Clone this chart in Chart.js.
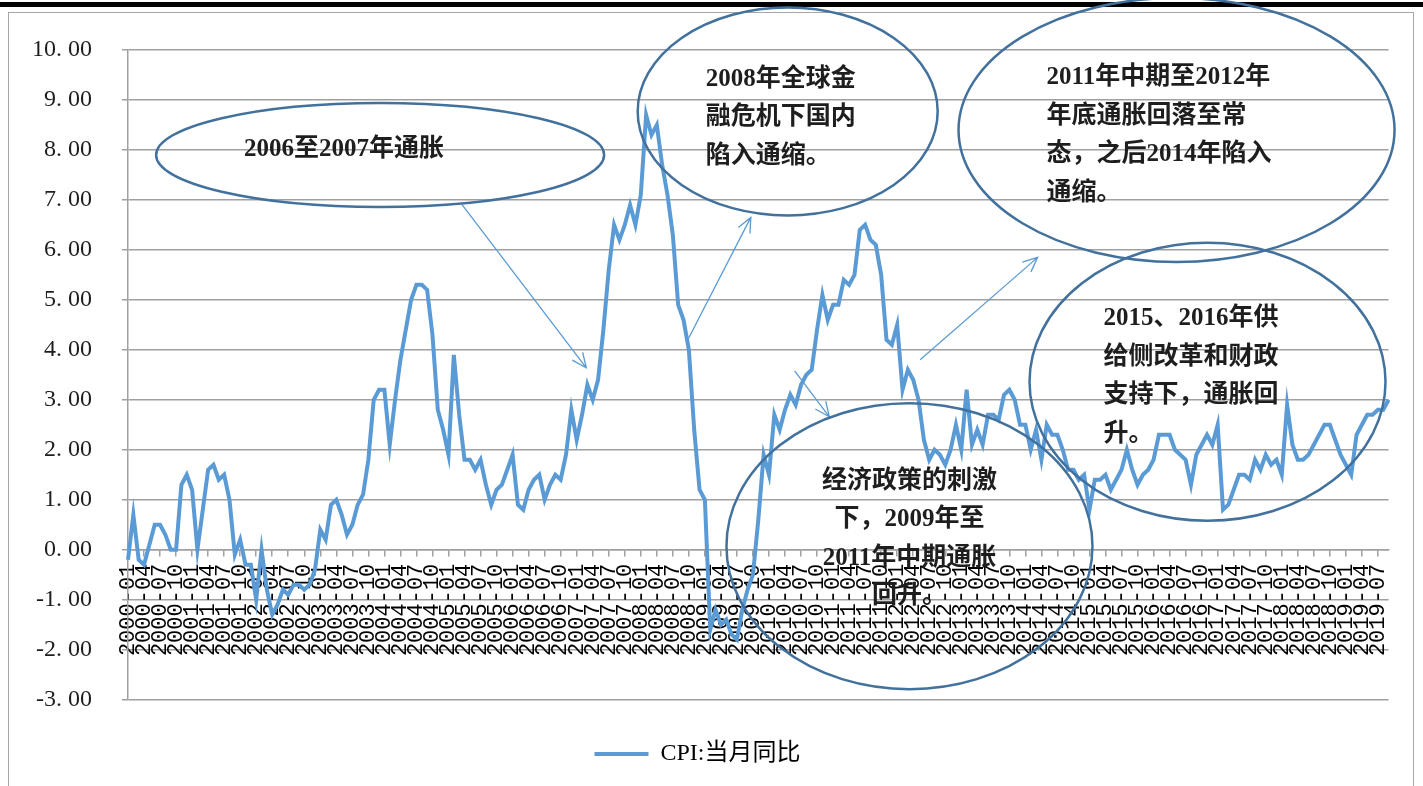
<!DOCTYPE html>
<html lang="zh-CN">
<head>
<meta charset="UTF-8" />
<title>CPI:当月同比</title>
<script src="https://cdn.jsdelivr.net/npm/chart.js"></script>
<style>
  html, body { margin: 0; padding: 0; background: #fff; }
  body { width: 1423px; height: 786px; position: relative; overflow: hidden; }
  .topbar { position: absolute; left: 0; top: 2px; width: 1423px; height: 5px; background: #000; }
  .frame { position: absolute; left: 8px; top: 12px; width: 1404px; height: 800px; border: 1.5px solid #a6a6a6; }
  .chart-box { position: absolute; left: 0; top: 0; width: 1423px; height: 786px; }
</style>
</head>
<body>
<div class="topbar"></div>
<div class="frame"></div>
<div class="chart-box"><canvas id="cpiChart"></canvas></div>

<script>
// 月份 2000-01 ~ 2019-09
const years = [2000, 2001, 2002, 2003, 2004, 2005, 2006, 2007, 2008, 2009,
               2010, 2011, 2012, 2013, 2014, 2015, 2016, 2017, 2018, 2019];
const lastMonth = 9;

// CPI 当月同比 (%)
const cpiValues = [
  -0.2, 0.7, -0.2, -0.3, 0.1, 0.5, 0.5, 0.3, 0.0, 0.0, 1.3, 1.5,      // 2000
  1.2, 0.0, 0.8, 1.6, 1.7, 1.4, 1.5, 1.0, -0.1, 0.2, -0.3, -0.3,      // 2001
  -1.0, 0.0, -0.8, -1.3, -1.1, -0.8, -0.9, -0.7, -0.7, -0.8, -0.7, -0.4, // 2002
  0.4, 0.2, 0.9, 1.0, 0.7, 0.3, 0.5, 0.9, 1.1, 1.8, 3.0, 3.2,         // 2003
  3.2, 2.1, 3.0, 3.8, 4.4, 5.0, 5.3, 5.3, 5.2, 4.3, 2.8, 2.4,         // 2004
  1.9, 3.9, 2.7, 1.8, 1.8, 1.6, 1.8, 1.3, 0.9, 1.2, 1.3, 1.6,         // 2005
  1.9, 0.9, 0.8, 1.2, 1.4, 1.5, 1.0, 1.3, 1.5, 1.4, 1.9, 2.8,         // 2006
  2.2, 2.7, 3.3, 3.0, 3.4, 4.4, 5.6, 6.5, 6.2, 6.5, 6.9, 6.5,         // 2007
  7.1, 8.7, 8.3, 8.5, 7.7, 7.1, 6.3, 4.9, 4.6, 4.0, 2.4, 1.2,         // 2008
  1.0, -1.6, -1.2, -1.5, -1.4, -1.7, -1.8, -1.2, -0.8, -0.5, 0.6, 1.9, // 2009
  1.5, 2.7, 2.4, 2.8, 3.1, 2.9, 3.3, 3.5, 3.6, 4.4, 5.1, 4.6,         // 2010
  4.9, 4.9, 5.4, 5.3, 5.5, 6.4, 6.5, 6.2, 6.1, 5.5, 4.2, 4.1,         // 2011
  4.5, 3.2, 3.6, 3.4, 3.0, 2.2, 1.8, 2.0, 1.9, 1.7, 2.0, 2.5,         // 2012
  2.0, 3.2, 2.1, 2.4, 2.1, 2.7, 2.7, 2.6, 3.1, 3.2, 3.0, 2.5,         // 2013
  2.5, 2.0, 2.4, 1.8, 2.5, 2.3, 2.3, 2.0, 1.6, 1.6, 1.4, 1.5,         // 2014
  0.8, 1.4, 1.4, 1.5, 1.2, 1.4, 1.6, 2.0, 1.6, 1.3, 1.5, 1.6,         // 2015
  1.8, 2.3, 2.3, 2.3, 2.0, 1.9, 1.8, 1.3, 1.9, 2.1, 2.3, 2.1,         // 2016
  2.5, 0.8, 0.9, 1.2, 1.5, 1.5, 1.4, 1.8, 1.6, 1.9, 1.7, 1.8,         // 2017
  1.5, 2.9, 2.1, 1.8, 1.8, 1.9, 2.1, 2.3, 2.5, 2.5, 2.2, 1.9,         // 2018
  1.7, 1.5, 2.3, 2.5, 2.7, 2.7, 2.8, 2.8, 3.0                         // 2019
];

const yMin = -3, yMax = 10, yStep = 1;
const labelEvery = 3;

const months = [];
years.forEach(yr => {
  const n = yr === years[years.length - 1] ? lastMonth : 12;
  for (let m = 1; m <= n; m++) months.push(yr + '-' + String(m).padStart(2, '0'));
});

const lineColor = '#5b9bd5';
const gridColor = '#a0a0a0';
const serif = '"Liberation Serif", "Noto Sans CJK SC", serif';

// 椭圆标注: 圆心用 [月份序号, 数值], 文字相对圆心偏移
const callouts = [
  { at: [47.2, 7.9], rx: 224, ry: 52, align: 'left', dx: -136, dy: -5,
    lines: ['2006至2007年通胀'] },
  { at: [123.5, 8.77], rx: 150, ry: 104, align: 'left', dx: -82, dy: -32,
    lines: ['2008年全球金', '融危机下国内', '陷入通缩。'] },
  { at: [196.3, 8.4], rx: 218, ry: 132, align: 'left', dx: -130, dy: -52,
    lines: ['2011年中期至2012年', '年底通胀回落至常', '态，之后2014年陷入', '通缩。'] },
  { at: [202.1, 3.36], rx: 178, ry: 139, align: 'left', dx: -104, dy: -63,
    lines: ['2015、2016年供', '给侧改革和财政', '支持下，通胀回', '升。'] },
  { at: [146.3, 0.07], rx: 183, ry: 143, align: 'center', dx: 0, dy: -65,
    lines: ['经济政策的刺激', '下，2009年至', '2011年中期通胀', '回升。'] }
];

// 箭头: 起点、终点 [月份序号, 数值]
const arrows = [
  [[62.5, 6.91], [85.8, 3.64]],
  [[104.9, 4.22], [116.6, 6.65]],
  [[124.8, 3.58], [131.3, 2.66]],
  [[148.3, 3.80], [170.3, 5.85]]
];

const calloutPlugin = {
  id: 'callouts',
  afterDraw(chart) {
    const { ctx } = chart;
    const xs = chart.scales.x, ys = chart.scales.y;
    ctx.save();

    // 箭头
    ctx.strokeStyle = lineColor;
    ctx.lineWidth = 1.3;
    arrows.forEach(([a, b]) => {
      const x1 = xs.getPixelForValue(a[0]), y1 = ys.getPixelForValue(a[1]);
      const x2 = xs.getPixelForValue(b[0]), y2 = ys.getPixelForValue(b[1]);
      const ang = Math.atan2(y2 - y1, x2 - x1);
      ctx.beginPath();
      ctx.moveTo(x1, y1);
      ctx.lineTo(x2, y2);
      ctx.moveTo(x2 - 16 * Math.cos(ang - 0.42), y2 - 16 * Math.sin(ang - 0.42));
      ctx.lineTo(x2, y2);
      ctx.lineTo(x2 - 16 * Math.cos(ang + 0.42), y2 - 16 * Math.sin(ang + 0.42));
      ctx.stroke();
    });

    // 椭圆和文字
    callouts.forEach(c => {
      const cx = xs.getPixelForValue(c.at[0]), cy = ys.getPixelForValue(c.at[1]);
      ctx.strokeStyle = '#41719c';
      ctx.lineWidth = 2.5;
      ctx.beginPath();
      ctx.ellipse(cx, cy, c.rx, c.ry, 0, 0, Math.PI * 2);
      ctx.stroke();

      ctx.fillStyle = '#1e1e1e';
      ctx.font = 'bold 25px ' + serif;
      ctx.textAlign = c.align;
      ctx.textBaseline = 'middle';
      c.lines.forEach((t, i) => ctx.fillText(t, cx + c.dx, cy + c.dy + i * 38.5));
    });
    ctx.restore();
  }
};

const ctx = document.getElementById('cpiChart').getContext('2d');
new Chart(ctx, {
  type: 'line',
  data: {
    labels: months,
    datasets: [{
      label: 'CPI:当月同比',
      data: cpiValues,
      borderColor: lineColor,
      backgroundColor: lineColor,
      borderWidth: 4,
      pointRadius: 0,
      tension: 0
    }]
  },
  options: {
    responsive: true,
    maintainAspectRatio: false,
    animation: false,
    layout: { padding: { left: 2, right: 30, top: 50, bottom: 10 } },
    scales: {
      x: {
        type: 'category',
        position: { y: 0 },
        offset: false,
        grid: {
          drawOnChartArea: false,
          tickLength: 6,
          lineWidth: 1.5,
          color: c => (c.index % labelEvery === 0 ? gridColor : 'rgba(0,0,0,0)')
        },
        border: { color: gridColor, width: 1.5 },
        ticks: {
          autoSkip: false,
          minRotation: 90,
          maxRotation: 90,
          padding: 8,
          color: '#000',
          font: { family: '"Liberation Mono", monospace', size: 22 },
          callback: function (v, i) {
            return i % labelEvery === 0 ? this.getLabelForValue(v) : '';
          }
        }
      },
      y: {
        min: yMin,
        max: yMax,
        ticks: {
          stepSize: yStep,
          padding: 30,
          color: '#1e1e1e',
          font: { family: serif, size: 24 },
          callback: v => v.toFixed(2).replace('.', '. ')
        },
        grid: { color: gridColor, lineWidth: 1.5, tickLength: 6 },
        border: { color: gridColor, width: 1.5 }
      }
    },
    plugins: {
      tooltip: { enabled: false },
      legend: {
        position: 'bottom',
        // 空标题只用来拉开图例与绘图区的距离
        title: { display: true, text: '', padding: 0, font: { size: 27 } },
        labels: {
          boxWidth: 54,
          boxHeight: 4,
          padding: 10,
          color: '#000',
          font: { family: serif, size: 24 },
          generateLabels(chart) {
            return Chart.defaults.plugins.legend.labels.generateLabels(chart)
              .map(l => ({ ...l, lineWidth: 0, fillStyle: lineColor }));
          }
        }
      }
    }
  },
  plugins: [calloutPlugin]
});
</script>
</body>
</html>
